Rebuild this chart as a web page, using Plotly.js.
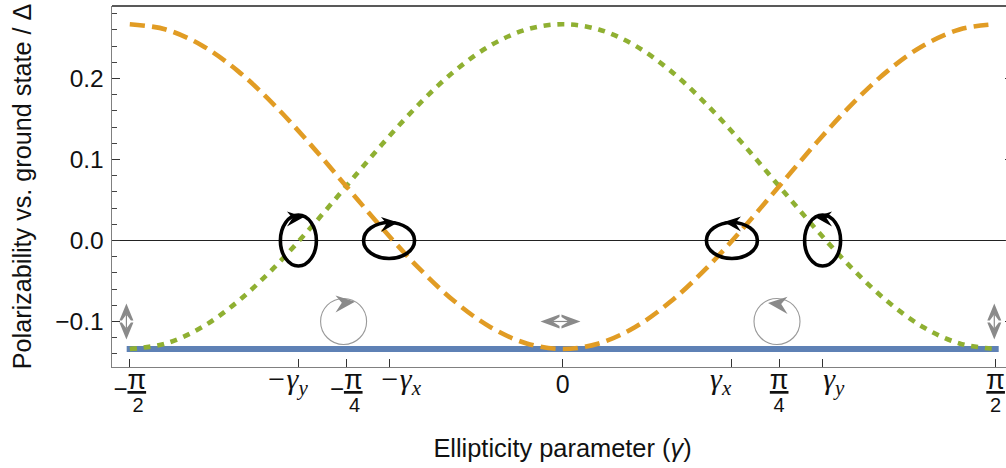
<!DOCTYPE html>
<html><head><meta charset="utf-8">
<script src="https://cdn.plot.ly/plotly-3.0.1.min.js"></script>
<style>html,body{margin:0;padding:0;background:#fff;overflow:hidden;width:1006px;height:468px}#c{width:1020px;height:468px}</style>
</head><body><div id="c"></div>
<script>
const gamma = [-1.5708,-1.4399,-1.3090,-1.1781,-1.0472,-0.9163,-0.7854,-0.6545,-0.5236,-0.3927,-0.2618,-0.1309,0,0.1309,0.2618,0.3927,0.5236,0.6545,0.7854,0.9163,1.0472,1.1781,1.3090,1.4399,1.5708];
const orangeValues = [0.267,0.2605,0.2408,0.2091,0.1675,0.1190,0.067,0.0150,-0.0335,-0.0751,-0.1071,-0.1271,-0.134,-0.1271,-0.1071,-0.0751,-0.0335,0.0150,0.067,0.1190,0.1675,0.2091,0.2408,0.2605,0.267];
const greenValues = [-0.134,-0.1271,-0.1071,-0.0751,-0.0335,0.0150,0.067,0.1190,0.1675,0.2091,0.2408,0.2605,0.267,0.2605,0.2408,0.2091,0.1675,0.1190,0.067,0.0150,-0.0335,-0.0751,-0.1071,-0.1271,-0.134];
const blueX = [-1.582,1.582];
const blueValues = [-0.134,-0.134];

const yTickVals = [-0.1,0,0.1,0.2];
const xTickVals = [-1.5708,-0.9595,-0.7854,-0.63,0,0.614,0.7854,0.943,1.5708];
const SANS = 'Liberation Sans, Arial, sans-serif';
const gam = s => '<span style="font-family:Liberation Serif;font-size:30px;font-style:italic">'+s+'</span>';
const piF = (pre,den) => pre+'<span style="font-size:27px"><u>π</u></span><br><span style="font-size:20px">'+den+'</span>';
const MINUS = '<span style="font-size:24px;baseline-shift:-8px">−</span>';
const xTickText = [
  piF(MINUS,'&nbsp;&nbsp;&nbsp;2'),
  gam('−γ<sub>y</sub>&nbsp;&nbsp;&nbsp;'),
  piF(MINUS,'&nbsp;&nbsp;&nbsp;4'),
  gam('&nbsp;&nbsp;&nbsp;−γ<sub>x</sub>'),
  '<sub><span style="font-size:25px">0</span></sub>',
  gam('γ<sub>x</sub>&nbsp;&nbsp;&nbsp;'),
  piF('','4'),
  gam('&nbsp;&nbsp;&nbsp;γ<sub>y</sub>'),
  piF('','2')
];

const ellipseX = [-0.959,-0.63,0.614,0.943];
const ellipseRx = [18,25.5,25.5,18];
const ellipseRy = [25.5,18,18,25.5];
const circleX = [-0.795,0.7776];
const blackHeadX = [-0.9387,-0.5976,0.585,0.9155];
const blackHeadY = [0.029,0.0222,0.0228,0.029];
const blackHeadDir = [1,1,-1,-1];
const greyHeadX = [-0.7536,0.745];
const greyHeadY = [-0.0756,-0.0772];
const greyHeadDir = [1,-1];
const vertArrowX = [-1.583,1.566];
const horizArrowX = [-0.008];
const glyphY = -0.1;
const GREY = '#8a8a8a';

const shapes = [];
function addPix(x,y,path,fill,line){
  shapes.push({type:'path',xref:'x',yref:'y',xsizemode:'pixel',ysizemode:'pixel',xanchor:x,yanchor:y,path:path,
    fillcolor:fill||'rgba(0,0,0,0)',line:line||{width:0},layer:'above'});
}
function head(x,y,d,color,s){
  const p=(a,b)=>(d*a*s).toFixed(1)+','+(b*s).toFixed(1);
  addPix(x,y,'M0,0 L'+p(-17,5.5)+' L'+p(-11.5,-1)+' L'+p(-17,-9.5)+' Z',color);
}
ellipseX.forEach((x,i)=>{
  shapes.push({type:'circle',xref:'x',yref:'y',xsizemode:'pixel',ysizemode:'pixel',xanchor:x,yanchor:0,
    x0:-ellipseRx[i],x1:ellipseRx[i],y0:-ellipseRy[i],y1:ellipseRy[i],line:{color:'#000',width:3.6},fillcolor:'rgba(0,0,0,0)',layer:'above'});
});
blackHeadX.forEach((x,i)=>head(x,blackHeadY[i],blackHeadDir[i],'#000',1));
circleX.forEach(x=>{
  shapes.push({type:'circle',xref:'x',yref:'y',xsizemode:'pixel',ysizemode:'pixel',xanchor:x,yanchor:glyphY,
    x0:-23,x1:23,y0:-23,y1:23,line:{color:'#999',width:1.1},fillcolor:'rgba(0,0,0,0)',layer:'above'});
});
greyHeadX.forEach((x,i)=>head(x,greyHeadY[i],greyHeadDir[i],GREY,1.15));
vertArrowX.forEach(x=>{
  addPix(x,glyphY,'M0,18 L7,1 L4.5,1 L0,7 L-4.5,1 L-7,1 Z M0,-18 L7,-1 L4.5,-1 L0,-7 L-4.5,-1 L-7,-1 Z',GREY);
  addPix(x,glyphY,'M0,-7 L0,7',null,{color:GREY,width:1.2});
});
horizArrowX.forEach(x=>{
  addPix(x,glyphY,'M-20,0 L-1,7 L-1,4.5 L-8,0 L-1,-4.5 L-1,-7 Z M20,0 L1,7 L1,4.5 L8,0 L1,-4.5 L1,-7 Z',GREY);
  addPix(x,glyphY,'M-8,0 L8,0',null,{color:GREY,width:1.2});
});
shapes.push({type:'line',xref:'paper',yref:'paper',x0:0,x1:1,y0:1,y1:1,line:{color:'#222',width:1.3},layer:'above'});

const traces = [
  {x:blueX,y:blueValues,mode:'lines',line:{color:'#5E81B5',width:5.8},hoverinfo:'skip'},
  {x:gamma,y:greenValues,mode:'lines',line:{color:'#8FB032',width:4.6,dash:'7px,6.8px',shape:'spline',smoothing:1},hoverinfo:'skip'},
  {x:gamma,y:orangeValues,mode:'lines',line:{color:'#E19C24',width:4.6,dash:'15px,7.3px',shape:'spline',smoothing:1},hoverinfo:'skip'}
];
const layout = {
  width:1020,height:468,margin:{l:112,r:7,t:6,b:101,pad:0},
  paper_bgcolor:'#fff',plot_bgcolor:'#fff',showlegend:false,
  font:{family:SANS,size:22,color:'#111'},
  xaxis:{range:[-1.6353,1.6339],tickmode:'array',tickvals:xTickVals,ticktext:xTickText,ticks:'inside',ticklen:8,tickwidth:1.1,tickcolor:'#333',
    showgrid:false,zeroline:false,showline:true,linecolor:'#808080',linewidth:1.4,tickangle:0,tickfont:{family:SANS,size:18,color:'#111'},
    ticklabelstandoff:-1,
    title:{text:'Ellipticity parameter (<i>γ</i>)',font:{family:SANS,size:25.4,color:'#111'},standoff:24}},
  yaxis:{range:[-0.1562,0.2895],tickmode:'array',tickvals:yTickVals,tickformat:'.1f',ticks:'inside',ticklen:8,tickwidth:1.1,tickcolor:'#333',
    minor:{tickmode:'linear',tick0:0,dtick:0.02,ticks:'inside',ticklen:5,tickwidth:1,tickcolor:'#444'},
    showgrid:false,zeroline:true,zerolinecolor:'#222',zerolinewidth:1.3,showline:true,mirror:'ticks',linecolor:'#808080',linewidth:1.4,
    tickfont:{family:SANS,size:24.5,color:'#111'},ticklabelstandoff:2,
    title:{text:'Polarizability vs. ground state / Δ',font:{family:SANS,size:25.2,color:'#111'},standoff:16}},
  shapes:shapes
};
Plotly.newPlot('c',traces,layout,{displayModeBar:false,staticPlot:true});
</script></body></html>
